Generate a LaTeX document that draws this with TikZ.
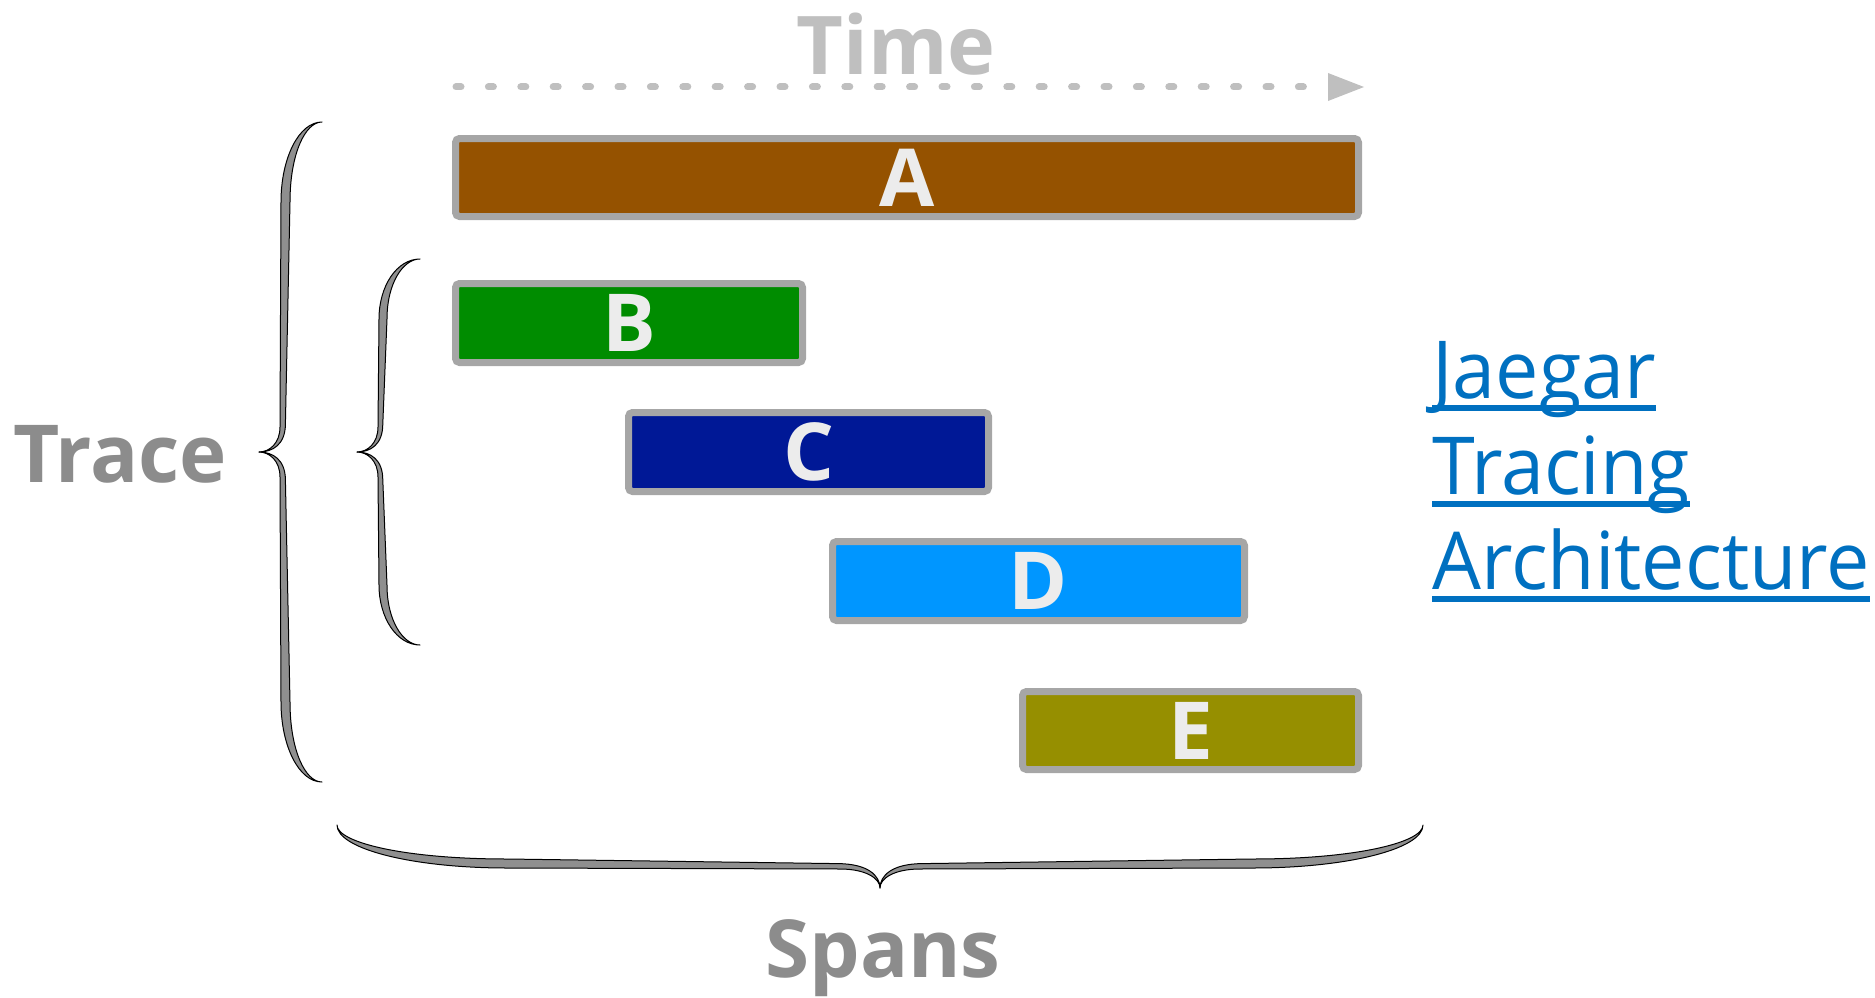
\documentclass[tikz,border=0pt]{standalone}
\usepackage{fontspec}
\setmainfont{Open Sans}
\newfontfamily\linkfont[FakeStretch=0.965]{Open Sans}
\usetikzlibrary{calc}

\definecolor{spanA}{HTML}{955200}
\definecolor{spanB}{HTML}{008C00}
\definecolor{spanC}{HTML}{001896}
\definecolor{spanD}{HTML}{0096FF}
\definecolor{spanE}{HTML}{968F00}
\definecolor{spanborder}{HTML}{A6A6A6}
\definecolor{spantext}{HTML}{ECECEC}
\definecolor{labelgray}{HTML}{8C8C8C}
\definecolor{timegray}{HTML}{BFBFBF}
\definecolor{bracegray}{HTML}{8F8F8F}
\definecolor{linkblue}{HTML}{0070C0}

% One half of a curly brace: tip at the origin, end at (w,-h).
% #1 w, #2 h, #3 stem offset, #4 stem thickness, #5 end curl length, #6 tip curl length
\newcommand{\bracehalf}[6]{%
  \filldraw[bracefill] (#1,{-#2})
    .. controls ({#3+0.45*(#1-#3)},{-#2}) and ({#3+1},{-#2+0.45*#5}) .. ({#3+1},{-#2+#5})
    -- (#3,{-#6})
    .. controls (#3,{-0.35*#6}) and ({0.5*#3},0) .. (0,0)
    .. controls ({0.65*#3},0) and ({#3+0.6*#4},{-0.3*#6}) .. ({#3+0.6*#4},{-#6-3})
    -- ({#3+#4+1},{-#2+#5})
    .. controls ({#3+#4+1},{-#2+0.4*#5}) and ({#3+0.6*(#1-#3)},{-#2}) .. (#1,{-#2})
    -- cycle;}
\newcommand{\curlybrace}[6]{%
  \bracehalf{#1}{#2}{#3}{#4}{#5}{#6}%
  \begin{scope}[yscale=-1]\bracehalf{#1}{#2}{#3}{#4}{#5}{#6}\end{scope}}

\begin{document}
\begin{tikzpicture}[x=1pt,y=-1pt,
  spanbox/.style={draw=spanborder, line width=7pt, rounded corners=4pt,
    text=spantext, font=\fontsize{80}{96}\selectfont\bfseries, inner sep=0pt},
  biglabel/.style={text=labelgray, font=\fontsize{80}{96}\selectfont\bfseries,
    inner sep=0pt, anchor=base},
  bracefill/.style={fill=bracegray, draw=black, line width=1pt, line join=round},
  timeline/.style={draw=timegray, line width=7pt, line cap=round,
    dash pattern=on 5pt off 27.4pt},
  linktext/.style={text=linkblue, font=\fontsize{80}{96}\linkfont,
    inner sep=0pt, anchor=base west},
  linkline/.style={draw=linkblue, line width=6pt}]
\useasboundingbox (0,0) rectangle (1875,998);

% time axis
\node[biglabel, text=timegray, font=\fontsize{81}{96}\selectfont\bfseries] (time) at (896,75) {Time};
\coordinate (tstart) at (456,87);
\coordinate (tend) at (1328,87);
\draw[timeline] (tstart) -- (tend);
\fill[timegray] (tend) ++(0,-14) -- ++(36,14) -- ++(-36,14) -- cycle;

% spans
\node[spanbox, fill=spanA, minimum width=903pt, minimum height=78pt] (A) at (907,177.5) {A};
\node[spanbox, fill=spanB, minimum width=347pt, minimum height=79pt] (B) at (629,323) {B};
\node[spanbox, fill=spanC, minimum width=360pt, minimum height=79pt] (C) at (808.5,452) {C};
\node[spanbox, fill=spanD, minimum width=412pt, minimum height=79pt] (D) at (1038.5,581) {D};
\node[spanbox, fill=spanE, minimum width=336pt, minimum height=78pt] (E) at (1190.5,730.5) {E};

% braces
\begin{scope}[shift={(259,452)}]
  \curlybrace{63}{330}{21}{9}{80}{25}
\end{scope}
\begin{scope}[shift={(357,452)}]
  \curlybrace{63}{193}{21}{8}{60}{25}
\end{scope}
\begin{scope}[shift={(880,888)}, rotate=90]
  \curlybrace{63}{543}{19}{9}{170}{40}
\end{scope}

% labels
\node[biglabel] (trace) at (120,482) {Trace};
\node[biglabel] (spans) at (883,977) {Spans};

% link
\node[linktext] (l1) at (1432,398) {Jaegar};
\node[linktext] (l2) at (1432,494) {Tracing};
\node[linktext] (l3) at (1432,589) {Architecture};
\foreach \n in {l1,l2,l3}
  \draw[linkline] ([yshift=-9.5pt]\n.base west) -- ([yshift=-9.5pt]\n.base east);
\end{tikzpicture}
\end{document}
